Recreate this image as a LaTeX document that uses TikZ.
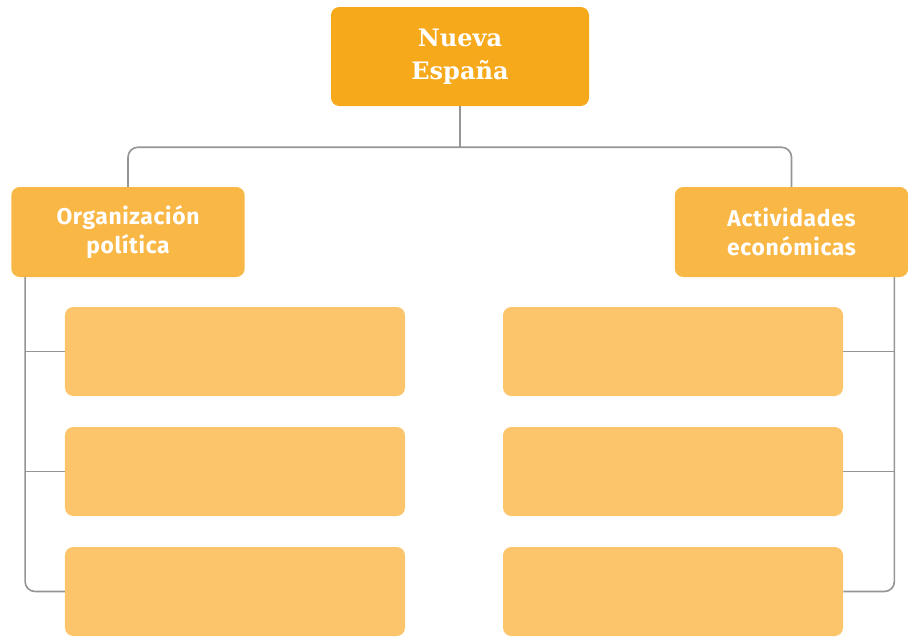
\documentclass[tikz,border=0pt]{standalone}
\usepackage{fontspec}
\usepackage{tikz}
\usetikzlibrary{calc}
\usepackage{xcolor}

\newfontfamily\slabfont{DejaVu Serif}
\newfontfamily\headfont[LetterSpace=3]{Fira Sans}

\definecolor{topfill}{HTML}{F7A91C}
\definecolor{headfill}{HTML}{F9B746}
\definecolor{boxfill}{HTML}{FCC46B}
\definecolor{linkgray}{HTML}{959595}

\begin{document}
\begin{tikzpicture}[x=0.03cm,y=-0.03cm,
		topbox/.style={fill=topfill,rounded corners=2.5mm,minimum width=7.74cm,minimum height=2.97cm,
			text=white,align=center,font=\slabfont\bfseries\fontsize{20.5}{28}\selectfont},
		headbox/.style={fill=headfill,rounded corners=2.5mm,minimum width=7cm,minimum height=2.7cm,
			text=white,align=center,font=\headfont\bfseries\fontsize{19.5}{25}\selectfont},
		emptybox/.style={fill=boxfill,rounded corners=2.5mm,minimum width=10.2cm,minimum height=2.67cm},
		link/.style={draw=linkgray,line width=1.4pt}]
		
		\useasboundingbox (0,0) rectangle (908,637);
		
		% Root
		\node[topbox] (nueva) at (460,56.5) {Nueva\\España};
		
		% Headers
		\node[headbox] (org) at (128,232) {Organización\\política};
		\node[headbox] (act) at (791.5,232) {Actividades\\económicas};
		
		% Empty boxes, left column
		\node[emptybox] (l1) at (235,351.5) {};
		\node[emptybox] (l2) at (235,471.5) {};
		\node[emptybox] (l3) at (235,591.5) {};
		
		% Empty boxes, right column
		\node[emptybox] (r1) at (673,351.5) {};
		\node[emptybox] (r2) at (673,471.5) {};
		\node[emptybox] (r3) at (673,591.5) {};
		
		% Root to headers
		\draw[link] (nueva.south) -- ++(0,41) coordinate (bus);
		\draw[link,rounded corners=3mm] (org.north) |- (bus) -| (act.north);
		
		% Left trunk
		\coordinate (ltrunk) at ($(org.south west)+(14,0)$);
		\draw[link,rounded corners=3mm] (ltrunk) |- (l3.west);
		\draw[link] (l1.west) -- (l1.west -| ltrunk);
		\draw[link] (l2.west) -- (l2.west -| ltrunk);
		
		% Right trunk
		\coordinate (rtrunk) at ($(act.south east)+(-14,0)$);
		\draw[link,rounded corners=3mm] (rtrunk) |- (r3.east);
		\draw[link] (r1.east) -- (r1.east -| rtrunk);
		\draw[link] (r2.east) -- (r2.east -| rtrunk);
		
	\end{tikzpicture}
\end{document}
